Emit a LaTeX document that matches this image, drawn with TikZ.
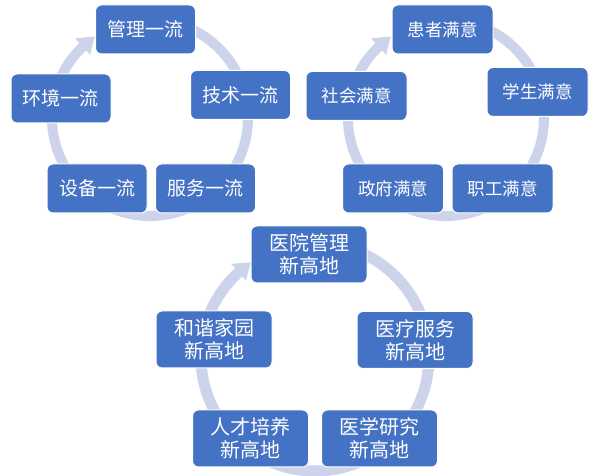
\documentclass[tikz,border=0pt]{standalone}
\usepackage{fontspec}
\setmainfont{Noto Sans CJK SC}
\usetikzlibrary{arrows.meta,bending}
\definecolor{boxblue}{HTML}{4472C4}
\definecolor{ringc}{HTML}{CDD3EA}
\tikzset{
  cbox/.style={draw=white, line width=1pt, fill=boxblue, rounded corners=6pt, text=white, align=center, inner sep=0pt},
  boxa/.style={cbox, minimum width=100pt, minimum height=49pt, font=\fontsize{19}{22}\selectfont},
  boxb/.style={cbox, minimum width=101pt, minimum height=49pt, font=\fontsize{17.5}{21}\selectfont},
  boxc/.style={cbox, minimum width=116pt, minimum height=57pt, font=\fontsize{20}{23}\selectfont},
  ring/.style={draw=ringc, line width=10pt, -{Triangle[width=21pt,length=16pt,bend]}}
}
\begin{document}
\begin{tikzpicture}[x=1pt,y=1pt]
\useasboundingbox (0,0) rectangle (600,476);
% rings
\coordinate (c1) at (150,358);
\coordinate (c2) at (446,358);
\coordinate (c3) at (315,119);
\draw[ring] (c1) ++(80:98) arc[start angle=80, end angle=-236, radius=98];
\draw[ring] (c2) ++(80:98) arc[start angle=80, end angle=-236, radius=98];
\draw[ring, line width=11pt] (c3) ++(80:114) arc[start angle=80, end angle=-236, radius=114];
% cycle 1
\node[boxa] (a1) at (145.5,446.5) {管理一流};
\node[boxa] (a2) at (240.5,381) {技术一流};
\node[boxa] (a3) at (205.5,287.5) {服务一流};
\node[boxa] (a4) at (97,287.5) {设备一流};
\node[boxa] (a5) at (61,377.5) {环境一流};
% cycle 2
\node[boxb] (b1) at (442.5,446.5) {患者满意};
\node[boxb] (b2) at (537.5,384) {学生满意};
\node[boxb] (b3) at (502.5,287.5) {职工满意};
\node[boxb] (b4) at (393,287.5) {政府满意};
\node[boxb] (b5) at (356.5,380) {社会满意};
% cycle 3
\node[boxc] (d1) at (309,221.5) {医院管理\\新高地};
\node[boxc] (d2) at (415,136) {医疗服务\\新高地};
\node[boxc] (d3) at (379.5,37.5) {医学研究\\新高地};
\node[boxc] (d4) at (250.5,37.5) {人才培养\\新高地};
\node[boxc] (d5) at (214,136.5) {和谐家园\\新高地};
\end{tikzpicture}
\end{document}
